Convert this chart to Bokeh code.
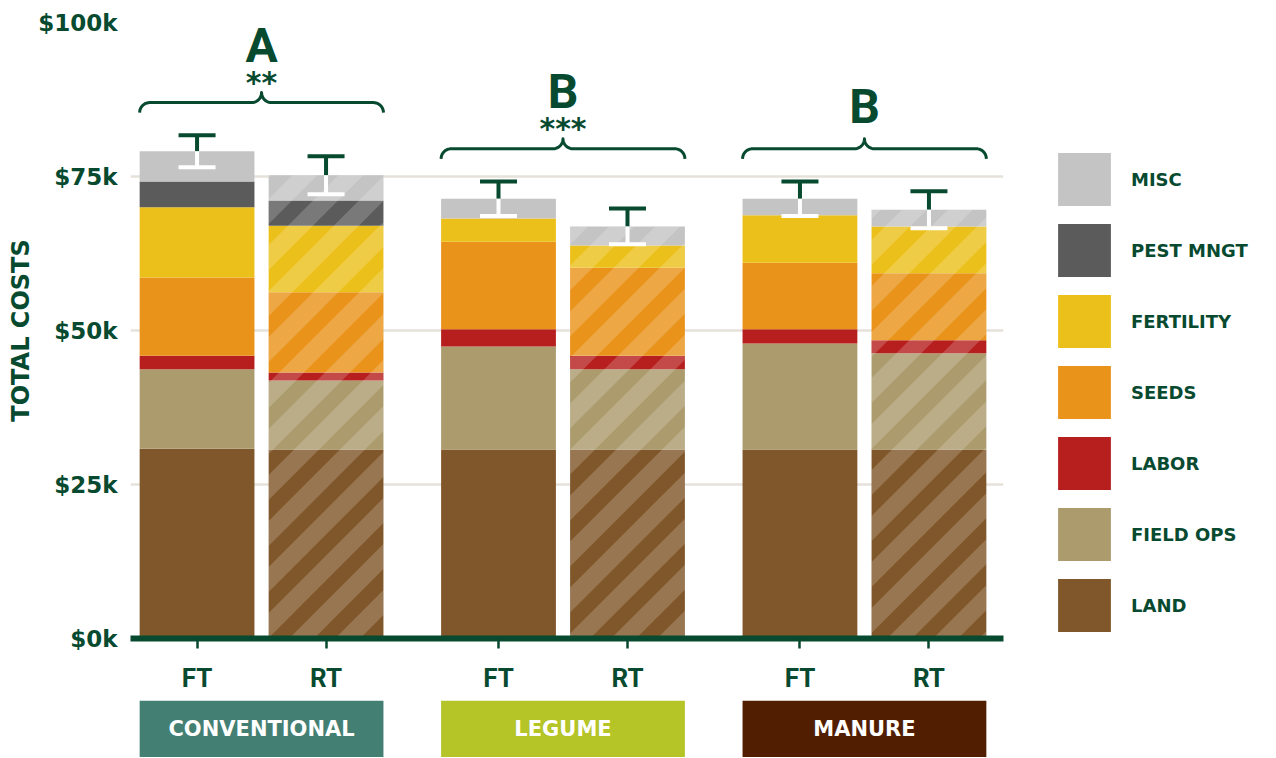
import math
from bokeh.plotting import figure
from bokeh.models import (ColumnDataSource, Range1d, FixedTicker, CustomJSTickFormatter,
                          Whisker, TeeHead, Legend, LegendItem)
from bokeh.layouts import column
from bokeh.embed import file_html
from bokeh.resources import INLINE
from bokeh.core.properties import value

# ---------------- data (values in $1000) ----------------
systems = ["CONVENTIONAL", "LEGUME", "MANURE"]
tillage = ["FT", "RT"]
components = ["LAND", "FIELD OPS", "LABOR", "SEEDS", "FERTILITY", "PEST MNGT", "MISC"]
# bar order: CONV FT, CONV RT, LEGUME FT, LEGUME RT, MANURE FT, MANURE RT
land      = [30.8, 30.7, 30.7, 30.7, 30.7, 30.7]
field_ops = [12.9, 11.2, 16.7, 13.0, 17.2, 15.6]
labor     = [2.2, 1.3, 2.8, 2.2, 2.3, 2.1]
seeds     = [12.7, 13.0, 14.2, 14.3, 10.8, 10.9]
fertility = [11.4, 10.8, 3.8, 3.6, 7.7, 7.6]
pest_mngt = [4.2, 4.1, 0.0, 0.0, 0.0, 0.0]
misc      = [4.9, 4.1, 3.2, 3.1, 2.7, 2.7]
error     = [2.6, 3.1, 2.8, 2.9, 2.8, 3.0]
sig_letters = ["A", "B", "B"]
sig_stars = ["**", "***", ""]
y_ticks = [0, 25, 50, 75, 100]

# ---------------- style ----------------
DARK = "#074a2f"
GRID = "#e6e1da"
comp_colors = ["#80572a", "#ab9b6d", "#b71f1f", "#e9931b", "#ecc01b", "#5b5b5b", "#c4c4c4"]
system_colors = ["#447f73", "#b5c427", "#521e01"]
FONT = "DejaVu Sans"
COND = "Roboto"

FRAME_W, FRAME_H = 873, 616
BAR_W = 0.89
SUB_PITCH = 1.0
GROUP_PITCH = 2.337
X0 = -0.516
X1 = 2 * GROUP_PITCH + SUB_PITCH + 0.578
XPX = FRAME_W / (X1 - X0)
YPX = FRAME_H / 100.0
STRIPE_PERIOD, STRIPE_W = 46.0, 25.0   # px, horizontal

keys = ["land", "field_ops", "labor", "seeds", "fertility", "pest_mngt", "misc"]
series = [land, field_ops, labor, seeds, fertility, pest_mngt, misc]

xs, labels = [], []
for g in range(len(systems)):
    for t in range(len(tillage)):
        xs.append(g * GROUP_PITCH + t * SUB_PITCH)
        labels.append(tillage[t])

totals = [sum(s[i] for s in series) for i in range(len(xs))]

def subset(idx):
    d = {"x": [xs[i] for i in idx]}
    for k, s in zip(keys, series):
        d[k] = [s[i] for i in idx]
    return ColumnDataSource(d)

ft_idx = [i for i in range(len(xs)) if labels[i] == "FT"]
rt_idx = [i for i in range(len(xs)) if labels[i] == "RT"]

p = figure(frame_width=FRAME_W, frame_height=FRAME_H,
           x_range=Range1d(X0, X1), y_range=Range1d(0, 100),
           min_border_left=130, min_border_right=262, min_border_top=22, min_border_bottom=62,
           toolbar_location=None, output_backend="svg")
p.outline_line_color = None
p.background_fill_color = "white"
p.border_fill_color = "white"

ft_r = p.vbar_stack(keys, x="x", width=BAR_W, source=subset(ft_idx),
                    fill_color=comp_colors, line_color=None)
rt_r = p.vbar_stack(keys, x="x", width=BAR_W, source=subset(rt_idx),
                    fill_color=comp_colors, line_color=None)

# diagonal light stripes over the RT bars (clipped bands, computed in pixel space)
def clip_poly(poly, f):
    out = []
    n = len(poly)
    for i in range(n):
        a, b = poly[i], poly[(i + 1) % n]
        fa, fb = f(a), f(b)
        if fa >= 0:
            out.append(a)
        if (fa >= 0) != (fb >= 0):
            t = fa / (fa - fb)
            out.append((a[0] + t * (b[0] - a[0]), a[1] + t * (b[1] - a[1])))
    return out

sx, sy = [], []
for i in rt_idx:
    l, r = (xs[i] - BAR_W / 2) * XPX, (xs[i] + BAR_W / 2) * XPX
    tp = totals[i] * YPX
    rect = [(l, 0.0), (r, 0.0), (r, tp), (l, tp)]
    kmin = int(math.floor((l - tp) / STRIPE_PERIOD)) - 1
    kmax = int(math.ceil(r / STRIPE_PERIOD)) + 1
    for k in range(kmin, kmax + 1):
        c = k * STRIPE_PERIOD
        poly = clip_poly(rect, lambda q, c=c: (q[0] - q[1]) - c)
        poly = clip_poly(poly, lambda q, c=c: c + STRIPE_W - (q[0] - q[1])) if poly else []
        if len(poly) >= 3:
            sx.append([q[0] / XPX for q in poly])
            sy.append([q[1] / YPX for q in poly])
p.patches(sx, sy, fill_color="white", fill_alpha=0.19, line_color=None)

# error bars
err_src = ColumnDataSource(dict(
    x=xs, top=totals,
    upper=[t + e for t, e in zip(totals, error)],
    lower=[t - e for t, e in zip(totals, error)]))
w_up = Whisker(source=err_src, base="x", lower="top", upper="upper", dimension="height",
               line_color=DARK, line_width=4, level="overlay",
               upper_head=TeeHead(size=37, line_color=DARK, line_width=4), lower_head=None)
w_dn = Whisker(source=err_src, base="x", lower="lower", upper="top", dimension="height",
               line_color="white", line_width=4, level="overlay",
               lower_head=TeeHead(size=37, line_color="white", line_width=4), upper_head=None)
p.add_layout(w_up)
p.add_layout(w_dn)

# braces + significance letters
def brace(xl, xr, y, r_px=10, n=12):
    rx, ry = r_px / XPX, r_px / YPX
    xm = (xl + xr) / 2
    bx, by = [], []
    def arc(cx, cy, a0, a1):
        for k in range(n + 1):
            a = a0 + (a1 - a0) * k / n
            bx.append(cx + rx * math.cos(a))
            by.append(cy + ry * math.sin(a))
    arc(xl + rx, y - ry, math.pi, math.pi / 2)
    arc(xm - rx, y + ry, 1.5 * math.pi, 2 * math.pi)
    arc(xm + rx, y + ry, math.pi, 1.5 * math.pi)
    arc(xr - rx, y - ry, math.pi / 2, 0)
    return bx, by

bxs, bys, gx, gy, loff, soff = [], [], [], [], [], []
for g in range(len(systems)):
    i0, i1 = 2 * g, 2 * g + 1
    xl = xs[i0] - BAR_W / 2
    xr = xs[i1] + BAR_W / 2
    yb = max(totals[i0] + error[i0], totals[i1] + error[i1]) + 5.3
    bx, by = brace(xl, xr, yb)
    bxs.append(bx); bys.append(by)
    gx.append((xl + xr) / 2); gy.append(yb)
    loff.append(-57 if sig_stars[g] else -42)
    soff.append(-20)

p.multi_line(bxs, bys, line_color=DARK, line_width=3, line_join="round")
sig_src = ColumnDataSource(dict(x=gx, y=gy, letter=sig_letters, stars=sig_stars,
                                loff=loff, soff=soff))
p.text(x="x", y="y", text="letter", y_offset="loff", source=sig_src,
       text_align="center", text_baseline="middle", text_color=DARK,
       text_font=value(COND), text_font_style="bold", text_font_size="48px")
p.text(x="x", y="y", text="stars", y_offset="soff", source=sig_src,
       text_align="center", text_baseline="middle", text_color=DARK,
       text_font=value(FONT), text_font_style="bold", text_font_size="30px")

# axes
p.xgrid.visible = False
p.ygrid.grid_line_color = GRID
p.ygrid.grid_line_width = 2.5
p.yaxis.ticker = FixedTicker(ticks=y_ticks)
p.yaxis.formatter = CustomJSTickFormatter(code="return '$' + tick + 'k'")
p.yaxis.axis_line_color = None
p.yaxis.major_tick_line_color = None
p.yaxis.minor_tick_line_color = None
p.yaxis.major_tick_out = 0
p.yaxis.major_tick_in = 0
p.yaxis.major_label_standoff = 13
p.yaxis.major_label_text_font = FONT
p.yaxis.major_label_text_font_style = "bold"
p.yaxis.major_label_text_font_size = "23px"
p.yaxis.major_label_text_color = DARK
p.yaxis.axis_label = "TOTAL COSTS"
p.yaxis.axis_label_text_font = FONT
p.yaxis.axis_label_text_font_style = "bold"
p.yaxis.axis_label_text_font_size = "24px"
p.yaxis.axis_label_text_color = DARK
p.yaxis.axis_label_standoff = 0

p.xaxis.ticker = FixedTicker(ticks=xs)
p.xaxis.formatter = CustomJSTickFormatter(args=dict(labels=labels), code="return labels[index]")
p.xaxis.axis_line_color = DARK
p.xaxis.axis_line_width = 6
p.xaxis.major_tick_line_color = DARK
p.xaxis.major_tick_line_width = 2.5
p.xaxis.major_tick_out = 10
p.xaxis.major_tick_in = 0
p.xaxis.minor_tick_line_color = None
p.xaxis.major_label_standoff = 14
p.xaxis.major_label_text_font = COND
p.xaxis.major_label_text_font_style = "bold"
p.xaxis.major_label_text_font_size = "26px"
p.xaxis.major_label_text_color = DARK

# legend
items = [LegendItem(label=components[i], renderers=[ft_r[i]]) for i in reversed(range(len(components)))]
legend = Legend(items=items, location=(48, 0), glyph_height=66, glyph_width=66, spacing=5,
                label_standoff=14, padding=0, margin=0, border_line_color=None,
                background_fill_alpha=0, label_text_font=FONT, label_text_font_style="bold",
                label_text_font_size="18px", label_text_color=DARK, label_height=66)
p.add_layout(legend, "right")

# system boxes
p2 = figure(frame_width=FRAME_W, frame_height=57, x_range=p.x_range, y_range=Range1d(0, 1),
            min_border_left=130, min_border_right=262, min_border_top=0, min_border_bottom=0,
            toolbar_location=None, output_backend="svg",
            x_axis_location=None, y_axis_location=None)
p2.outline_line_color = None
p2.grid.visible = False
box_src = ColumnDataSource(dict(
    left=[xs[2 * g] - BAR_W / 2 for g in range(len(systems))],
    right=[xs[2 * g + 1] + BAR_W / 2 for g in range(len(systems))],
    cx=gx, name=systems, color=system_colors))
p2.quad(left="left", right="right", bottom=0, top=1, fill_color="color", line_color=None, source=box_src)
p2.text(x="cx", y=0.5, text="name", source=box_src, text_align="center", text_baseline="middle",
        text_color="white", text_font=value(FONT), text_font_style="bold", text_font_size="21px")

layout = column(p, p2, spacing=0)
open("out.html", "w").write(file_html(layout, INLINE))
